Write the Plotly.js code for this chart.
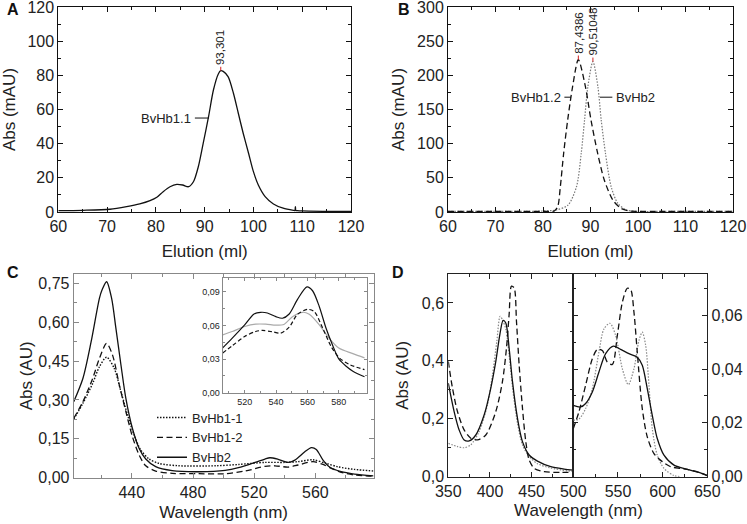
<!DOCTYPE html>
<html><head><meta charset="utf-8">
<script src="https://cdn.plot.ly/plotly-3.0.1.min.js"></script>
<style>html,body{margin:0;padding:0;background:#fff}#chart{width:747px;height:524px}</style>
</head><body><div id="chart"></div>
<script>
// ---- Panel A: BvHb1.1 elution ----
const aElution = [60,65,70.6,74,76.7,78.8,80.2,81.5,82.9,84.3,85.5,86.7,87.7,88.7,89.7,90.8,91.8,92.8,93.3,93.8,94.8,95.9,96.9,97.9,99,100,101,102.4,104.1,106.1,108.2,108.5,108.6,108.7,109,110,115,120];
const aAbs = [0.8,1.0,1.6,3.1,4.7,6.6,8.6,11.9,14.8,16.2,15.8,14.8,17.7,26.5,40.2,55.8,71.4,80.8,82.7,82.3,79.2,69.5,57.8,46.1,34.4,23.6,15.8,9.0,4.7,2.2,1.0,0.9,3.2,0.9,0.8,0.6,0.4,0.3];
// ---- Panel B ----
const bElution12 = [60,65,70,75,80,82,82.4,83.1,83.65,84.35,85.2,86.24,87.44,88.92,90.1,91.5,92.9,94.7,96.4,98.2,100,105,110,115,120];
const bAbs12 = [1,1,1,1,1,1,1.5,7.8,37,86,134.8,183.7,222.8,183.7,134.8,86,46.9,17.6,5.4,1.5,1,1,1,1,1];
const bElution2 = [60,70,78,80,82.75,85.25,87.05,88.05,88.75,89.45,90.51,91.55,92.25,93.15,94.35,95.75,97.55,99.65,105,110,120];
const bAbs2 = [0.8,0.8,1,1.5,2.9,10,37,86,134.8,183.7,220,183.7,134.8,86,37,12.7,2.9,1,0.8,0.8,0.8];
// ---- Panel C main ----
const cWl11 = [402,408,414.4,418.8,423.5,428.5,432.9,437.2,441.5,445.8,451.3,457.8,470.8,494.6,509.7,527,540,548.7,558.5,567.2,574.8,585.5,598];
const cAbs11 = [0.226,0.287,0.364,0.428,0.465,0.422,0.332,0.242,0.165,0.107,0.072,0.055,0.046,0.046,0.051,0.059,0.059,0.062,0.069,0.055,0.042,0.032,0.026];
const cWl12 = [402,408,414.4,418.8,423.5,427.4,431.8,436.1,440.4,444.8,449.1,455.6,466.4,483.8,501,514,527,533.6,542.2,548.7,558.5,565,570.4,576.9,585.5,598];
const cAbs12 = [0.229,0.293,0.383,0.46,0.518,0.473,0.358,0.255,0.158,0.0875,0.046,0.0257,0.0167,0.0154,0.0154,0.0257,0.0437,0.046,0.041,0.049,0.062,0.051,0.036,0.0206,0.0103,0.006];
const cWl2 = [402,408,413.4,418.8,420.5,423.5,426.8,429.6,432.9,436.1,440.4,444.8,449.1,455.6,466.4,483.8,501,509.7,520.6,527,530.3,535.7,542.2,546.6,553.1,557.4,560.6,565,569.3,576.9,585.5,598];
const cAbs2 = [0.293,0.383,0.525,0.692,0.724,0.756,0.692,0.576,0.435,0.306,0.19,0.113,0.072,0.0425,0.027,0.023,0.028,0.0386,0.059,0.072,0.077,0.071,0.059,0.068,0.10,0.116,0.109,0.068,0.041,0.023,0.014,0.007];
// ---- Panel C inset ----
const inWl11 = [506,512.1,520,527,533.5,540,545.3,550.5,557,561.2,567.6,573,580,589,596.4];
const inAbs11 = [0.0516,0.0546,0.059,0.0611,0.0611,0.0602,0.0611,0.0678,0.0717,0.0699,0.0605,0.0501,0.0398,0.0348,0.031];
const inWl12 = [506,512.1,520,527,531.3,537.7,543,548.4,553.7,560.1,564.4,569.8,575.1,580.4,586.8,596.4];
const inAbs12 = [0.0354,0.0419,0.0501,0.0546,0.0555,0.0543,0.0531,0.0584,0.0699,0.0743,0.0723,0.0575,0.0413,0.031,0.0251,0.0206];
const inWl2 = [506,512.1,520,526,530.2,534.5,539.9,544.1,548.4,553.7,559.7,563.3,567.6,571.9,576.2,580,584.7,589,596.4];
const inAbs2 = [0.040,0.0487,0.0605,0.0702,0.0717,0.0711,0.0678,0.0664,0.0702,0.0832,0.0944,0.0909,0.0767,0.0575,0.0419,0.0301,0.0236,0.0192,0.0142];
// ---- Panel D left (Soret) ----
const dLWl2 = [350,357,363,369,375,383,393,401,407,411.8,415.8,419,423,427,433,439,447,457,473,489,500];
const dLAbs2 = [0.323,0.225,0.1615,0.127,0.1235,0.144,0.213,0.306,0.398,0.49,0.54,0.531,0.444,0.329,0.202,0.121,0.075,0.054,0.0346,0.0265,0.023];
const dLWl12 = [350,355,361,369,377,385,395,407,415,419.8,423,425.8,429,431.8,435,439,443,447,453,465,485,500];
const dLAbs12 = [0.398,0.306,0.225,0.1615,0.133,0.127,0.144,0.225,0.329,0.444,0.56,0.658,0.652,0.537,0.387,0.237,0.121,0.058,0.029,0.0173,0.015,0.015];
const dLWl11 = [350,361,369,377,387,397,403,408.2,412.2,415,419,423,427,433,439,447,457,473,500];
const dLAbs11 = [0.115,0.104,0.1,0.11,0.156,0.248,0.352,0.467,0.554,0.542,0.51,0.42,0.31,0.185,0.11,0.07,0.045,0.03,0.0173];
// ---- Panel D right (Q bands) ----
const dRWl2 = [500,508.2,513.8,521.3,528.7,536.2,544.8,553,562.3,571.6,577.2,582.8,588.4,594,601.5,612.7,627.6,640.7,650];
const dRAbs2 = [0.0265,0.0259,0.0272,0.0315,0.0389,0.0457,0.0485,0.0473,0.0457,0.0444,0.0414,0.0327,0.0228,0.0142,0.008,0.0043,0.0027,0.0016,0.0004];
const dRWl12 = [500,506.3,513.8,521.3,526.9,532.5,538,543.7,549.3,554.9,560.4,564.2,567.9,571.6,577.2,582.8,590.3,599.6,609,620,627.6,640.7,650];
const dRAbs12 = [0.0179,0.0241,0.034,0.0438,0.0473,0.0469,0.0426,0.0417,0.0525,0.0648,0.07,0.0695,0.0611,0.0463,0.0253,0.0148,0.0086,0.0056,0.0037,0.0031,0.0027,0.0016,0.0004];
const dRWl11 = [500,506.3,513.8,521.3,528.7,534.3,541,547.4,554.9,561.6,567.9,573.5,577.2,581,584.7,588.4,594,601.5,612.7,620];
const dRAbs11 = [0.021,0.0214,0.0253,0.0327,0.0463,0.0549,0.057,0.0525,0.0401,0.0342,0.0401,0.0506,0.0537,0.0488,0.034,0.0179,0.008,0.0031,0.0004,0];

const W = 747, H = 524;
const px = v => v / W;
const py = v => 1 - v / H;
const FONT = 'Arial, "Liberation Sans", sans-serif';
const INK = '#111';
const DASH = '6px,3.5px';
const DOT = '1.5px,1.5px';

function ax(o, col, minorDtick, size, tl) {
  col = col || INK; size = size || 16; tl = tl || 5;
  return Object.assign({
    showgrid: false, zeroline: false, showline: true, linewidth: 1, linecolor: col,
    mirror: 'ticks', ticks: 'inside', ticklen: tl, tickwidth: 1, tickcolor: col,
    tickfont: {size: size, color: '#222', family: FONT}, ticklabeloverflow: 'allow',
    minor: {dtick: minorDtick, ticks: 'inside', ticklen: Math.max(2, tl - 2), tickwidth: 1, tickcolor: col},
    fixedrange: true
  }, o);
}
const tfont = {size: 17, color: '#222', family: FONT};

function line(x, y, xa, ya, color, dash, name, show, width) {
  return {x: x, y: y, xaxis: xa, yaxis: ya, type: 'scatter', mode: 'lines', name: name || '',
    showlegend: !!show, hoverinfo: 'skip',
    line: {color: color, dash: dash || 'solid', width: width || 1.3, shape: 'spline', smoothing: 0.8}};
}

const traces = [
  line(cWl11, cAbs11, 'x3', 'y3', '#111', DOT, 'BvHb1-1', true, 1.4),
  line(cWl12, cAbs12, 'x3', 'y3', '#111', DASH, 'BvHb1-2', true),
  line(cWl2, cAbs2, 'x3', 'y3', '#111', 'solid', 'BvHb2', true),
  line(aElution, aAbs, 'x', 'y', '#111', 'solid'),
  line(bElution2, bAbs2, 'x2', 'y2', '#777', DOT, '', false, 1.2),
  line(bElution12, bAbs12, 'x2', 'y2', '#111', DASH),
  line(inWl11, inAbs11, 'x4', 'y4', '#aaa', 'solid', '', false, 1.2),
  line(inWl12, inAbs12, 'x4', 'y4', '#111', '4px,2.5px', '', false, 1.2),
  line(inWl2, inAbs2, 'x4', 'y4', '#111', 'solid', '', false, 1.2),
  line(dLWl11, dLAbs11, 'x5', 'y5', '#888', DOT, '', false, 1.2),
  line(dLWl12, dLAbs12, 'x5', 'y5', '#111', DASH),
  line(dLWl2, dLAbs2, 'x5', 'y5', '#111', 'solid'),
  line(dRWl11, dRAbs11, 'x6', 'y6', '#888', DOT, '', false, 1.2),
  line(dRWl12, dRAbs12, 'x6', 'y6', '#111', DASH),
  line(dRWl2, dRAbs2, 'x6', 'y6', '#111', 'solid')
];

const GREY = '#888';
const letter = (t, x, y) => ({text: '<b>' + t + '</b>', xref: 'paper', yref: 'paper', x: px(x), y: py(y),
  xanchor: 'center', yanchor: 'middle', showarrow: false, font: {size: 16, color: '#111', family: FONT}});
const layout = {
  width: W, height: H, margin: {l: 0, r: 0, t: 0, b: 0},
  paper_bgcolor: '#fff', plot_bgcolor: 'rgba(0,0,0,0)',
  separators: ', ', font: {family: FONT, color: '#222'},
  showlegend: true,
  legend: {x: px(152), y: py(402.5), xanchor: 'left', yanchor: 'top', bgcolor: 'rgba(0,0,0,0)',
    font: {size: 13, color: '#222', family: FONT}, tracegroupgap: 0},
  // A
  xaxis: ax({domain: [px(58.3), px(351)], range: [60, 120], dtick: 10, anchor: 'y',
    title: {text: 'Elution (ml)', font: tfont, standoff: 10}}, INK, 5),
  yaxis: ax({domain: [py(212), py(7)], range: [0, 120], dtick: 20, anchor: 'x',
    title: {text: 'Abs (mAU)', font: tfont, standoff: 8}}, INK, 10),
  // B
  xaxis2: ax({domain: [px(448), px(733)], range: [60, 120], dtick: 10, anchor: 'y2',
    title: {text: 'Elution (ml)', font: tfont, standoff: 10}}, INK, 5),
  yaxis2: ax({domain: [py(212), py(7)], range: [0, 300], dtick: 50, anchor: 'x2',
    title: {text: 'Abs (mAU)', font: tfont, standoff: 8}}, INK, 25),
  // C
  xaxis3: ax({domain: [px(73.7), px(373.5)], range: [402, 598], tick0: 0, dtick: 40, anchor: 'y3',
    title: {text: 'Wavelength (nm)', font: tfont, standoff: 6}}, GREY, 20),
  yaxis3: ax({domain: [py(477.7), py(274)], range: [0, 0.786], tick0: 0, dtick: 0.15, tickformat: '.2f', anchor: 'x3',
    title: {text: 'Abs (AU)', font: tfont, standoff: 1}}, GREY, 0.075),
  // inset
  xaxis4: ax({domain: [px(222.7), px(367)], range: [506, 598], tick0: 0, dtick: 20, anchor: 'y4'}, GREY, 10, 9, 3),
  yaxis4: ax({domain: [py(392.7), py(278.3)], range: [0, 0.102], tick0: 0, dtick: 0.03, tickformat: '.2f', anchor: 'x4'}, GREY, 0.015, 9, 3),
  // D left
  xaxis5: ax({domain: [px(448.3), px(573.3)], range: [350, 500], tick0: 0, dtick: 50, anchor: 'y5'}, '#222', 25),
  yaxis5: ax({domain: [py(476.7), py(274)], range: [0, 0.70], tick0: 0, dtick: 0.2, tickformat: '.1f', anchor: 'x5',
    title: {text: 'Abs (AU)', font: tfont, standoff: 8}}, '#222', 0.1),
  // D right
  xaxis6: ax({domain: [px(573.3), px(707.3)], range: [500, 650], tickmode: 'array', tickvals: [550, 600, 650], anchor: 'y6'}, '#222', 25),
  yaxis6: ax({domain: [py(476.7), py(274)], range: [0, 0.0753], tick0: 0, dtick: 0.02, tickformat: '.2f', anchor: 'x6', side: 'right'}, '#222', 0.01),
  annotations: [
    letter('A', 13, 10), letter('B', 404, 9), letter('C', 13, 272), letter('D', 398, 272),
    {text: 'Wavelength (nm)', xref: 'paper', yref: 'paper', x: px(578), y: py(510), xanchor: 'center', yanchor: 'middle', showarrow: false, font: tfont},
    {text: '93,301', xref: 'x', yref: 'y', x: 93.3, y: 85, textangle: -90, xanchor: 'center', yanchor: 'bottom', showarrow: false, font: {size: 11.5, color: '#222'}},
    {text: '87,4386', xref: 'x2', yref: 'y2', x: 87.44, y: 229, textangle: -90, xanchor: 'center', yanchor: 'bottom', showarrow: false, font: {size: 11.5, color: '#222'}},
    {text: '90,51048', xref: 'x2', yref: 'y2', x: 90.51, y: 226, textangle: -90, xanchor: 'center', yanchor: 'bottom', showarrow: false, font: {size: 11.5, color: '#222'}},
    {text: 'BvHb1.1', xref: 'x', yref: 'y', x: 87.6, y: 55, xanchor: 'right', yanchor: 'middle', showarrow: false, font: {size: 13, color: '#222'}},
    {text: 'BvHb1.2', xref: 'x2', yref: 'y2', x: 84.2, y: 168, xanchor: 'right', yanchor: 'middle', showarrow: false, font: {size: 13, color: '#222'}},
    {text: 'BvHb2', xref: 'x2', yref: 'y2', x: 95.0, y: 168, xanchor: 'left', yanchor: 'middle', showarrow: false, font: {size: 13, color: '#222'}}
  ],
  shapes: [
    {type: 'line', xref: 'x', yref: 'y', x0: 93.3, x1: 93.3, y0: 82.7, y1: 85, line: {color: '#d02020', width: 1}},
    {type: 'line', xref: 'x2', yref: 'y2', x0: 87.44, x1: 87.44, y0: 222.8, y1: 229, line: {color: '#d02020', width: 1}},
    {type: 'line', xref: 'x2', yref: 'y2', x0: 90.51, x1: 90.51, y0: 220, y1: 226, line: {color: '#d02020', width: 1}},
    {type: 'line', xref: 'x', yref: 'y', x0: 88.0, x1: 90.9, y0: 55, y1: 55, line: {color: '#111', width: 1}},
    {type: 'line', xref: 'x2', yref: 'y2', x0: 84.5, x1: 85.9, y0: 168, y1: 168, line: {color: '#111', width: 1}},
    {type: 'line', xref: 'x2', yref: 'y2', x0: 92.0, x1: 94.6, y0: 168, y1: 168, line: {color: '#111', width: 1}}
  ]
};

Plotly.newPlot('chart', traces, layout, {displayModeBar: false, staticPlot: true});
</script>
</body></html>
